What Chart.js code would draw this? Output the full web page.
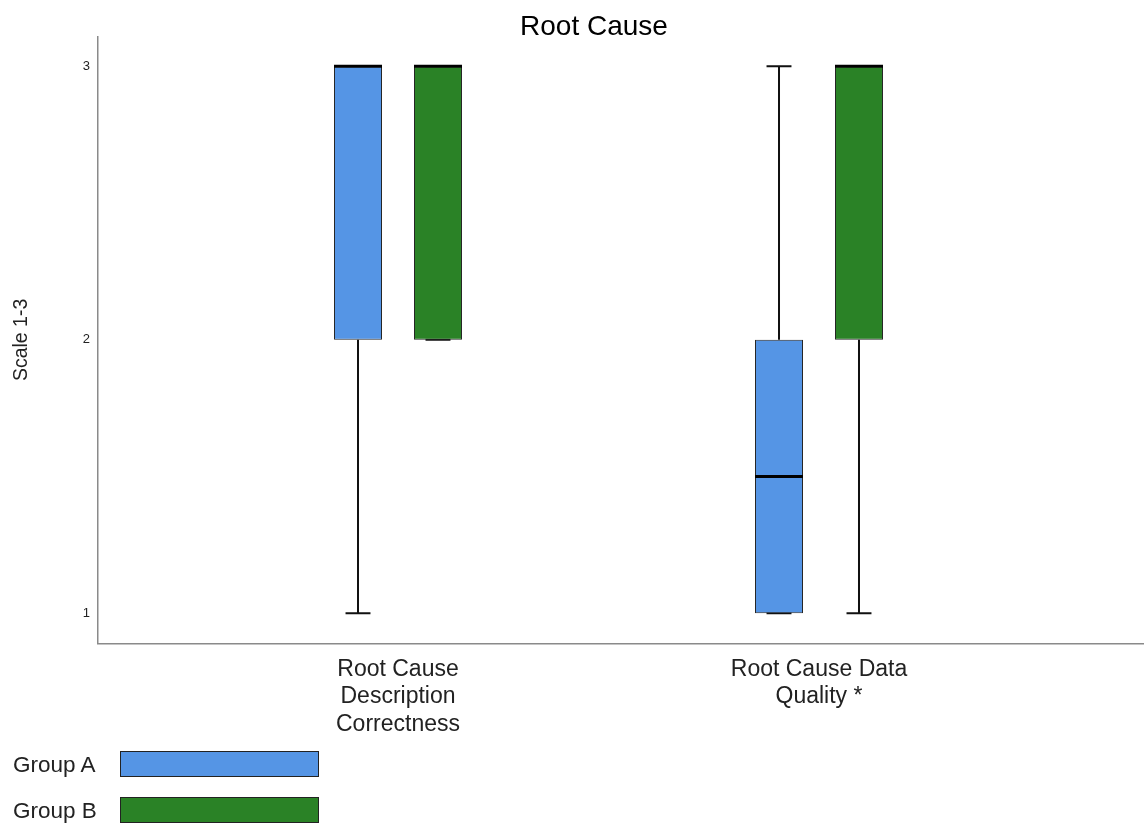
<!DOCTYPE html>
<html>
<head>
<meta charset="utf-8">
<script src="https://cdn.jsdelivr.net/npm/chart.js@4/dist/chart.umd.min.js"></script>
<style>
  html, body { margin: 0; padding: 0; background: #fff; }
  #wrap { position: relative; width: 1144px; height: 827px; }
  #chart { position: absolute; left: 0; top: 0; }
  .lg-text { position: absolute; left: 13px; font-family: "Liberation Sans", Arial, sans-serif; font-size: 22.5px; color: #222; line-height: 26px; white-space: nowrap; }
  .lg-box { position: absolute; left: 120px; width: 199px; height: 26px; box-sizing: border-box; border: 1.5px solid #222; }
</style>
</head>
<body>
<div id="wrap">
  <canvas id="chart" width="1144" height="827"></canvas>
  <div id="legend"></div>
</div>
<script>
// ---- data ----
const chartTitle = 'Root Cause';
const yAxisTitle = 'Scale 1-3';
const categories = [['Root Cause', 'Description', 'Correctness'], ['Root Cause Data', 'Quality *']];
const yTicks = [1, 2, 3];

const groupNames = ['Group A', 'Group B'];
const groupColors = ['#5595E5', '#2A8226'];

const groupA_min    = [1, 1];
const groupA_q1     = [2, 1];
const groupA_median = [3, 1.5];
const groupA_q3     = [3, 2];
const groupA_max    = [3, 3];

const groupB_min    = [2, 1];
const groupB_q1     = [2, 2];
const groupB_median = [3, 3];
const groupB_q3     = [3, 3];
const groupB_max    = [3, 3];

const stats = [
  { min: groupA_min, q1: groupA_q1, median: groupA_median, q3: groupA_q3, max: groupA_max },
  { min: groupB_min, q1: groupB_q1, median: groupB_median, q3: groupB_q3, max: groupB_max }
];

const FONT = '"Liberation Sans", Arial, sans-serif';

function boxData(s) {
  return s.q1.map((v, i) => ({ x: i + 1, y: [v, s.q3[i]] }));
}

const whiskerPlugin = {
  id: 'whiskers',
  beforeDatasetsDraw(chart) {
    const ctx = chart.ctx;
    const yScale = chart.scales.y;
    ctx.save();
    ctx.strokeStyle = '#111';
    ctx.lineWidth = 2;
    chart.data.datasets.forEach((ds, di) => {
      const meta = chart.getDatasetMeta(di);
      const s = stats[di];
      meta.data.forEach((el, i) => {
        const { x, width } = el.getProps(['x', 'width'], true);
        const cap = width * 0.52;
        const yMin = yScale.getPixelForValue(s.min[i]);
        const yQ1 = yScale.getPixelForValue(s.q1[i]);
        const yQ3 = yScale.getPixelForValue(s.q3[i]);
        const yMax = yScale.getPixelForValue(s.max[i]);
        ctx.beginPath();
        ctx.moveTo(x, yQ1); ctx.lineTo(x, yMin);
        ctx.moveTo(x - cap / 2, yMin); ctx.lineTo(x + cap / 2, yMin);
        ctx.moveTo(x, yQ3); ctx.lineTo(x, yMax);
        ctx.moveTo(x - cap / 2, yMax); ctx.lineTo(x + cap / 2, yMax);
        ctx.stroke();
      });
    });
    ctx.restore();
  },
  afterDatasetsDraw(chart) {
    const ctx = chart.ctx;
    const yScale = chart.scales.y;
    ctx.save();
    ctx.strokeStyle = '#000';
    ctx.lineWidth = 3;
    chart.data.datasets.forEach((ds, di) => {
      const meta = chart.getDatasetMeta(di);
      const s = stats[di];
      meta.data.forEach((el, i) => {
        const { x, width } = el.getProps(['x', 'width'], true);
        const yMed = yScale.getPixelForValue(s.median[i]);
        ctx.beginPath();
        ctx.moveTo(x - width / 2, yMed); ctx.lineTo(x + width / 2, yMed);
        ctx.stroke();
      });
    });
    ctx.restore();
  }
};

const chart = new Chart(document.getElementById('chart'), {
  type: 'bar',
  data: {
    datasets: groupNames.map((name, di) => ({
      label: name,
      data: boxData(stats[di]),
      backgroundColor: groupColors[di],
      borderColor: '#262626',
      borderWidth: 1,
      borderSkipped: false,
      categoryPercentage: 0.38,
      barPercentage: 0.6
    }))
  },
  options: {
    responsive: false,
    animation: false,
    layout: { padding: { left: 44, right: 0, top: 0, bottom: 0 } },
    plugins: {
      legend: { display: false },
      tooltip: { enabled: false },
      title: {
        display: true,
        text: chartTitle,
        color: '#000',
        font: { family: FONT, size: 28, weight: 'normal', lineHeight: 0.62 },
        padding: { top: 19, bottom: 0 }
      }
    },
    scales: {
      x: {
        type: 'linear',
        min: 0.28741,
        max: 2.77197,
        offset: false,
        grid: { display: false, drawTicks: false },
        border: { display: true, color: '#8a8a8a', width: 1.5 },
        afterBuildTicks: (scale) => { scale.ticks = categories.map((c, i) => ({ value: i + 1 })); },
        afterFit: (scale) => { scale.height = 183.5; },
        ticks: {
          autoSkip: false,
          maxRotation: 0,
          padding: 12,
          color: '#222',
          font: { family: FONT, size: 23, lineHeight: 1.2 },
          callback: (v) => categories[v - 1]
        }
      },
      y: {
        min: 0.889,
        max: 3.109,
        grid: { display: false, drawTicks: false },
        border: { display: true, color: '#8a8a8a', width: 1.5 },
        afterBuildTicks: (scale) => { scale.ticks = yTicks.map(v => ({ value: v })); },
        afterFit: (scale) => { scale.width = 54; },
        ticks: {
          padding: 8,
          color: '#222',
          font: { family: FONT, size: 13 },
          callback: (v) => String(v)
        },
        title: {
          display: true,
          text: yAxisTitle,
          color: '#222',
          font: { family: FONT, size: 19.5, lineHeight: 1.2 },
          padding: { top: -33.7, bottom: 0 }
        }
      }
    }
  },
  plugins: [whiskerPlugin]
});

// HTML legend built from the chart's datasets
const legendEl = document.getElementById('legend');
const legendTops = [751, 797];
chart.data.datasets.forEach((ds, i) => {
  const t = document.createElement('div');
  t.className = 'lg-text';
  t.style.top = (legendTops[i] + 1) + 'px';
  t.textContent = ds.label;
  const b = document.createElement('div');
  b.className = 'lg-box';
  b.style.top = legendTops[i] + 'px';
  b.style.background = ds.backgroundColor;
  legendEl.appendChild(t);
  legendEl.appendChild(b);
});
</script>
</body>
</html>
